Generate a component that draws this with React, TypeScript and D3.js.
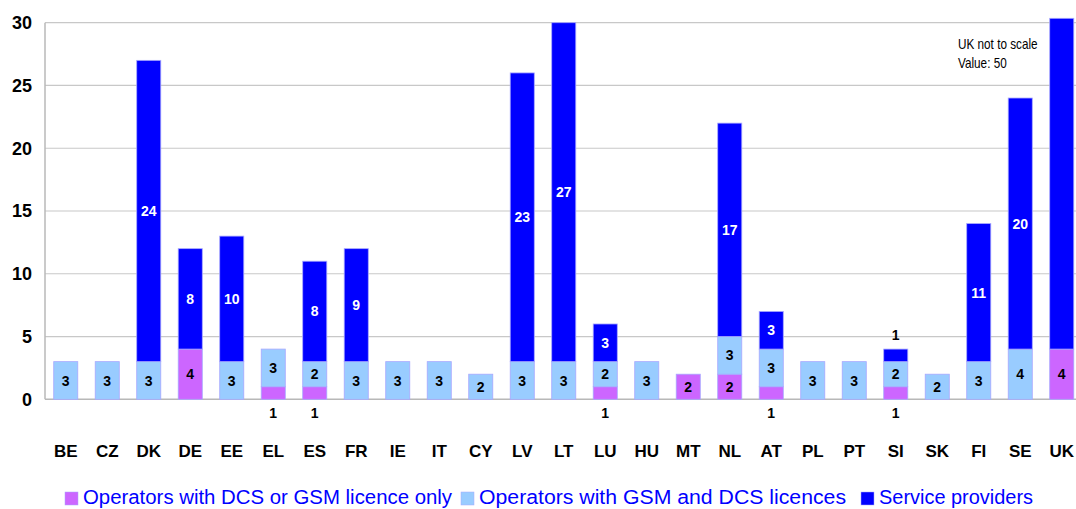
import React from "react";
import * as d3 from "d3";

const categories = ["BE","CZ","DK","DE","EE","EL","ES","FR","IE","IT","CY","LV","LT","LU","HU","MT","NL","AT","PL","PT","SI","SK","FI","SE","UK"];
const singleLicence = [0,0,0,4,0,1,1,0,0,0,0,0,0,1,0,2,2,1,0,0,1,0,0,0,4];
const dualLicence   = [3,3,3,0,3,3,2,3,3,3,2,3,3,2,3,0,3,3,3,3,2,2,3,4,0];
const serviceProviders = [0,0,24,8,10,0,8,9,0,0,0,23,27,3,0,0,17,3,0,0,1,0,11,20,46];
const yTicks = [0,5,10,15,20,25,30];
const seriesNames = ["Operators with DCS or GSM licence only","Operators with GSM and DCS licences","Service providers"];
const notToScaleNote = ["UK not to scale", "Value: 50"];

const W = 1076, H = 509;
const left = 45, plotRight = 1082.5, yTop = 22.7, yBottom = 399.3;
const colors = ["#cc66ff", "#99ccff", "#0000ff"];
const font = "Arial, 'Liberation Sans', sans-serif";

export default function App() {
  const x = d3.scaleBand<string>().domain(categories).range([left, plotRight]).paddingInner(0.42).paddingOuter(0.21);
  const y = d3.scaleLinear().domain([0, 30]).range([yBottom, yTop]);
  const rows = categories.map((c, i) => ({ cat: c, s0: singleLicence[i], s1: dualLicence[i], s2: serviceProviders[i] }));
  const stack = d3.stack<any>().keys(["s0", "s1", "s2"]);
  const series = stack(rows);
  const clipTop = y(30.35);

  const bars: React.ReactNode[] = [];
  const labels: React.ReactNode[] = [];
  series.forEach((s, si) => {
    s.forEach((d, i) => {
      const v = d[1] - d[0];
      if (v <= 0) return;
      const cat = categories[i];
      const bx = x(cat)!;
      const bw = x.bandwidth();
      const top = Math.max(y(d[1]), clipTop);
      const bot = y(d[0]);
      bars.push(
        <rect key={`b${si}-${i}`} x={bx} y={top} width={bw} height={bot - top}
          fill={colors[si]} stroke="#a8a8ff" strokeWidth={0.8} />
      );
      const cx = bx + bw / 2;
      if (cat === "UK" && si === 2) return;
      let ly: number;
      if (v === 1 && si === 0) ly = 413;
      else if (v === 1 && si === 2) ly = top - 14;
      else ly = (top + bot) / 2;
      const outside = v === 1;
      labels.push(
        <text key={`l${si}-${i}`} x={cx} y={ly} dy="0.36em" textAnchor="middle"
          fontFamily={font} fontWeight="bold" fontSize={14}
          fill={si === 2 && !outside ? "#ffffff" : "#000000"}>{v}</text>
      );
    });
  });

  const legendItems = [
    { sq: 65, tx: 83, len: 369 },
    { sq: 461, tx: 479, len: 367 },
    { sq: 861, tx: 879, len: 154 },
  ];

  return (
    <svg width={W} height={H} style={{ position: "absolute", left: 0, top: 0, background: "#fff" }}>
      {yTicks.map(t => (
        <g key={`g${t}`}>
          {t > 0 && <line x1={left} x2={W} y1={y(t)} y2={y(t)} stroke="#c8c8c8" strokeWidth={1.2} />}
          <text x={32} y={y(t)} dy="0.36em" textAnchor="end" fontFamily={font} fontWeight="bold" fontSize={18} fill="#000">{t}</text>
        </g>
      ))}
      <line x1={left} x2={left} y1={yTop} y2={yBottom} stroke="#b8b8b8" strokeWidth={1.5} />
      <line x1={left} x2={W} y1={yBottom} y2={yBottom} stroke="#b8b8b8" strokeWidth={1.5} />
      {bars}
      {labels}
      {categories.map(c => (
        <text key={`c${c}`} x={x(c)! + x.bandwidth() / 2} y={451} dy="0.36em" textAnchor="middle"
          fontFamily={font} fontWeight="bold" fontSize={17} fill="#000">{c}</text>
      ))}
      {notToScaleNote.map((t, i) => (
        <text key={`n${i}`} x={958} y={49 + i * 19} fontFamily={font} fontSize={14} fill="#000"
          transform={`translate(${958 * (1 - 0.84)},0) scale(0.84,1)`}>{t}</text>
      ))}
      {seriesNames.map((n, i) => (
        <g key={`lg${i}`}>
          <rect x={legendItems[i].sq} y={492} width={13} height={13} fill={colors[i]} stroke="#a8a8ff" strokeWidth={0.5} />
          <text x={legendItems[i].tx} y={504} fontFamily={font} fontSize={20} fill="#0000ff"
            textLength={legendItems[i].len} lengthAdjust="spacingAndGlyphs">{n}</text>
        </g>
      ))}
    </svg>
  );
}
